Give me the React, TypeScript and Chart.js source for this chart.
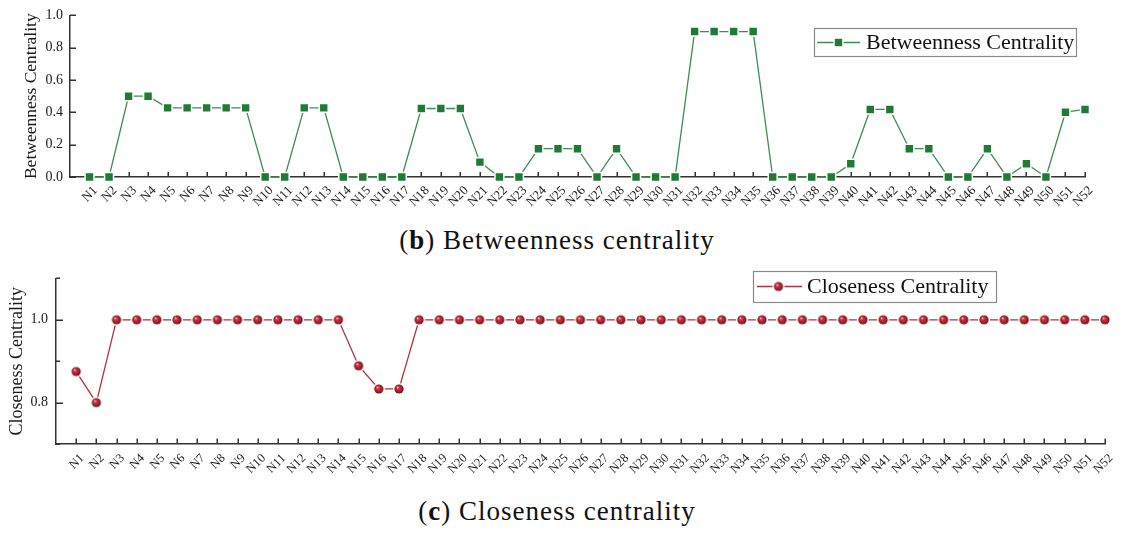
import React, { useEffect, useRef } from 'react';
import { Chart, registerables } from 'chart.js';

Chart.register(...registerables);

// ---------- data ----------
const NODES = [
  'N1', 'N2', 'N3', 'N4', 'N5', 'N6', 'N7', 'N8', 'N9', 'N10',
  'N11', 'N12', 'N13', 'N14', 'N15', 'N16', 'N17', 'N18', 'N19', 'N20',
  'N21', 'N22', 'N23', 'N24', 'N25', 'N26', 'N27', 'N28', 'N29', 'N30',
  'N31', 'N32', 'N33', 'N34', 'N35', 'N36', 'N37', 'N38', 'N39', 'N40',
  'N41', 'N42', 'N43', 'N44', 'N45', 'N46', 'N47', 'N48', 'N49', 'N50',
  'N51', 'N52',
];

const BETWEENNESS = [
  0, 0, 0.5, 0.5, 0.428, 0.428, 0.428, 0.428, 0.428, 0,
  0, 0.428, 0.428, 0, 0, 0, 0, 0.424, 0.424, 0.424,
  0.092, 0, 0, 0.175, 0.175, 0.175, 0, 0.175, 0, 0,
  0, 0.9, 0.9, 0.9, 0.9, 0, 0, 0, 0, 0.082,
  0.418, 0.418, 0.175, 0.175, 0, 0, 0.175, 0, 0.082, 0,
  0.401, 0.418,
];

const CLOSENESS = [
  0.875, 0.8, 1, 1, 1, 1, 1, 1, 1, 1,
  1, 1, 1, 1, 0.889, 0.833, 0.833, 1, 1, 1,
  1, 1, 1, 1, 1, 1, 1, 1, 1, 1,
  1, 1, 1, 1, 1, 1, 1, 1, 1, 1,
  1, 1, 1, 1, 1, 1, 1, 1, 1, 1,
  1, 1,
];

const TOP_Y_TICKS = [0, 0.2, 0.4, 0.6, 0.8, 1.0];
const BOTTOM_Y_TICKS = [0.8, 1.0];

const SERIES_B = 'Betweenness Centrality';
const SERIES_C = 'Closeness Centrality';

// ---------- styles ----------
const SERIF = '"Liberation Serif", "Times New Roman", serif';
const AXIS_COLOR = '#333333';
const TEXT_COLOR = '#1a1a1a';
const GREEN_LINE = '#3f8d51';
const GREEN_MARK = '#1f7a36';
const RED_LINE = '#b3303e';
const RED_MARK = '#a51d2c';

function makeSphere(r: number): HTMLCanvasElement {
  const c = document.createElement('canvas');
  const size = Math.ceil((r + 2) * 2);
  c.width = size;
  c.height = size;
  const g = c.getContext('2d')!;
  const cx = size / 2;
  g.fillStyle = '#ffffff';
  g.beginPath();
  g.arc(cx, cx, r + 1.5, 0, Math.PI * 2);
  g.fill();
  const grad = g.createRadialGradient(cx - r * 0.35, cx - r * 0.4, r * 0.05, cx, cx, r);
  grad.addColorStop(0, '#fbe3e5');
  grad.addColorStop(0.25, '#cf3a48');
  grad.addColorStop(0.7, RED_MARK);
  grad.addColorStop(1, '#6e0c17');
  g.fillStyle = grad;
  g.beginPath();
  g.arc(cx, cx, r, 0, Math.PI * 2);
  g.fill();
  return c;
}

function inwardTicks(majorLen: number, minorLen: number, xLen: number) {
  return {
    id: 'inwardTicks',
    beforeDatasetsDraw(chart: any) {
      const { ctx, chartArea, scales } = chart;
      const xs = scales.x;
      const ys = scales.y;
      ctx.save();
      ctx.strokeStyle = AXIS_COLOR;
      ctx.lineWidth = 1.5;
      ys.ticks.forEach((t: any) => {
        const major = Math.round(t.value * 10) % 2 === 0;
        const py = Math.round(ys.getPixelForValue(t.value)) + 0.25;
        ctx.beginPath();
        ctx.moveTo(chartArea.left, py);
        ctx.lineTo(chartArea.left + (major ? majorLen : minorLen), py);
        ctx.stroke();
      });
      xs.ticks.forEach((t: any) => {
        if (t.value < 1) return;
        const px = Math.round(xs.getPixelForValue(t.value)) + 0.25;
        ctx.beginPath();
        ctx.moveTo(px, chartArea.bottom);
        ctx.lineTo(px, chartArea.bottom - xLen);
        ctx.stroke();
      });
      ctx.restore();
    },
  };
}

function boxLegend(cfg: {
  box: [number, number, number, number];
  lineFrom: number;
  lineTo: number;
  markX: number;
  y: number;
  textX: number;
  text: string;
  lineColor: string;
  drawMark: (ctx: CanvasRenderingContext2D, x: number, y: number) => void;
}) {
  return {
    id: 'boxLegend',
    afterDraw(chart: any) {
      const ctx: CanvasRenderingContext2D = chart.ctx;
      const [x1, y1, x2, y2] = cfg.box;
      ctx.save();
      ctx.fillStyle = '#ffffff';
      ctx.fillRect(x1, y1, x2 - x1, y2 - y1);
      ctx.strokeStyle = '#8a8a8a';
      ctx.lineWidth = 1.2;
      ctx.strokeRect(x1 + 0.5, y1 + 0.5, x2 - x1, y2 - y1);
      ctx.strokeStyle = cfg.lineColor;
      ctx.lineWidth = 1.3;
      ctx.beginPath();
      ctx.moveTo(cfg.lineFrom, cfg.y);
      ctx.lineTo(cfg.lineTo, cfg.y);
      ctx.stroke();
      cfg.drawMark(ctx, cfg.markX, cfg.y);
      ctx.fillStyle = '#111111';
      ctx.font = `22px ${SERIF}`;
      ctx.textBaseline = 'middle';
      ctx.textAlign = 'left';
      ctx.fillText(cfg.text, cfg.textX, cfg.y + 1);
      ctx.restore();
    },
  };
}

function xScale(height: number, fontSize: number, labelOffset: number, padding: number) {
  return {
    type: 'linear' as const,
    min: 0,
    max: NODES.length,
    afterFit: (s: any) => { s.height = height; },
    afterBuildTicks: (s: any) => {
      s.ticks = [{ value: 0 }, ...NODES.map((_, i) => ({ value: i + 1 }))];
    },
    ticks: {
      autoSkip: false,
      minRotation: 45,
      maxRotation: 45,
      labelOffset,
      padding,
      color: TEXT_COLOR,
      font: { family: SERIF, size: fontSize },
      callback: (v: any) => (v >= 1 ? NODES[v - 1] : ''),
    },
    grid: { display: false, drawTicks: false },
    border: { display: true, color: AXIS_COLOR, width: 1.5 },
  };
}

function BetweennessChart() {
  const ref = useRef<HTMLCanvasElement>(null);
  useEffect(() => {
    const chart = new Chart(ref.current!, {
      type: 'line',
      data: {
        datasets: [
          {
            label: SERIES_B,
            data: BETWEENNESS.map((v, i) => ({ x: i + 1, y: v })),
            borderColor: GREEN_LINE,
            borderWidth: 1.3,
            pointStyle: 'rect',
            pointRadius: 6.3,
            pointBackgroundColor: GREEN_MARK,
            pointBorderColor: '#ffffff',
            pointBorderWidth: 1.5,
            tension: 0,
            clip: false,
          } as any,
        ],
      },
      options: {
        responsive: false,
        animation: false,
        events: [],
        layout: { padding: { top: 15, right: 38, left: 0, bottom: 0 } },
        plugins: { legend: { display: false }, tooltip: { enabled: false } },
        scales: {
          x: xScale(45, 13, 6, 6) as any,
          y: {
            min: 0,
            max: 1,
            afterFit: (s: any) => { s.width = 70; },
            afterBuildTicks: (s: any) => {
              const vals: number[] = [];
              TOP_Y_TICKS.forEach((v, i) => {
                vals.push(v);
                if (i < TOP_Y_TICKS.length - 1) vals.push((v + TOP_Y_TICKS[i + 1]) / 2);
              });
              s.ticks = vals.map((value) => ({ value }));
            },
            ticks: {
              padding: 7,
              color: TEXT_COLOR,
              font: { family: SERIF, size: 14 },
              callback: (v: any) => (TOP_Y_TICKS.some((t) => Math.abs(t - v) < 1e-6) ? Number(v).toFixed(1) : ''),
            },
            grid: { display: false, drawTicks: false },
            border: { display: true, color: AXIS_COLOR, width: 1.5 },
            title: {
              display: true,
              text: SERIES_B,
              color: TEXT_COLOR,
              font: { family: SERIF, size: 17.5 },
              padding: { top: 21, bottom: 0 },
            },
          },
        },
      },
      plugins: [
        inwardTicks(6, 3.5, 5),
        boxLegend({
          box: [814, 28, 1076, 56],
          lineFrom: 817,
          lineTo: 860,
          markX: 838.5,
          y: 42.5,
          textX: 866,
          text: SERIES_B,
          lineColor: GREEN_LINE,
          drawMark: (ctx, x, y) => {
            ctx.fillStyle = '#ffffff';
            ctx.fillRect(x - 5, y - 5, 10, 10);
            ctx.fillStyle = GREEN_MARK;
            ctx.fillRect(x - 3.7, y - 3.7, 7.4, 7.4);
          },
        }),
      ],
    });
    return () => chart.destroy();
  }, []);
  return <canvas ref={ref} width={1123} height={222} style={{ position: 'absolute', left: 0, top: 0 }} />;
}

function ClosenessChart() {
  const ref = useRef<HTMLCanvasElement>(null);
  useEffect(() => {
    const sphere = makeSphere(4.6);
    const chart = new Chart(ref.current!, {
      type: 'line',
      data: {
        datasets: [
          {
            label: SERIES_C,
            data: CLOSENESS.map((v, i) => ({ x: i + 1, y: v })),
            borderColor: RED_LINE,
            borderWidth: 1.3,
            pointStyle: sphere,
            pointRadius: 5,
            tension: 0,
            clip: false,
          } as any,
        ],
      },
      options: {
        responsive: false,
        animation: false,
        events: [],
        layout: { padding: { top: 15, right: 18, left: 0, bottom: 0 } },
        plugins: { legend: { display: false }, tooltip: { enabled: false } },
        scales: {
          x: xScale(40, 12.5, 6, 7) as any,
          y: {
            min: 0.7,
            max: 1.1,
            afterFit: (s: any) => { s.width = 56; },
            afterBuildTicks: (s: any) => {
              s.ticks = [0.7, 0.8, 0.9, 1.0, 1.1].map((value) => ({ value }));
            },
            ticks: {
              padding: 8,
              color: TEXT_COLOR,
              font: { family: SERIF, size: 14 },
              callback: (v: any) => (BOTTOM_Y_TICKS.some((t) => Math.abs(t - v) < 1e-6) ? Number(v).toFixed(1) : ''),
            },
            grid: { display: false, drawTicks: false },
            border: { display: true, color: AXIS_COLOR, width: 1.5 },
            title: {
              display: true,
              text: SERIES_C,
              color: TEXT_COLOR,
              font: { family: SERIF, size: 18 },
              padding: { top: 6.5, bottom: 0 },
            },
          },
        },
      },
      plugins: [
        inwardTicks(7, 4, 5.5),
        boxLegend({
          box: [753, 9, 996, 40],
          lineFrom: 757,
          lineTo: 802,
          markX: 778.5,
          y: 24.5,
          textX: 807,
          text: SERIES_C,
          lineColor: RED_LINE,
          drawMark: (ctx, x, y) => {
            ctx.drawImage(sphere, x - sphere.width / 2, y - sphere.height / 2);
          },
        }),
      ],
    });
    return () => chart.destroy();
  }, []);
  return <canvas ref={ref} width={1123} height={222} style={{ position: 'absolute', left: 0, top: 262 }} />;
}

const captionStyle: React.CSSProperties = {
  position: 'absolute',
  left: 0,
  width: 1114,
  textAlign: 'center',
  fontFamily: SERIF,
  fontSize: 27,
  lineHeight: '27px',
  letterSpacing: '1px',
  color: '#111111',
  whiteSpace: 'nowrap',
};

export default function App() {
  return (
    <div
      style={{
        position: 'fixed',
        left: 0,
        top: 0,
        width: 1123,
        height: 537,
        background: '#ffffff',
        overflow: 'hidden',
      }}
    >
      <BetweennessChart />
      <ClosenessChart />
      <div style={{ ...captionStyle, top: 227 }}>
        (<b>b</b>) Betweenness centrality
      </div>
      <div style={{ ...captionStyle, top: 498 }}>
        (<b>c</b>) Closeness centrality
      </div>
    </div>
  );
}
